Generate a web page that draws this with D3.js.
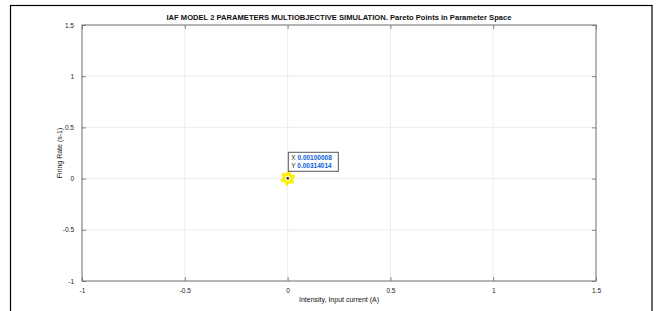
<!DOCTYPE html>
<html><head><meta charset="utf-8">
<script src="https://cdn.jsdelivr.net/npm/d3@7"></script>
<style>body{margin:0;background:#fff}svg{display:block}</style>
</head><body>
<svg id="c" width="659" height="311"></svg>
<script>
const title = "IAF MODEL 2 PARAMETERS MULTIOBJECTIVE SIMULATION. Pareto Points in Parameter Space";
const xLabel = "Intensity, Input current (A)";
const yLabel = "Firing Rate (s-1)";
const xTicks = [-1, -0.5, 0, 0.5, 1, 1.5];
const yTicks = [-1, -0.5, 0, 0.5, 1, 1.5];
const xTickLabels = ["-1", "-0.5", "0", "0.5", "1", "1.5"];
const yTickLabels = ["-1", "-0.5", "0", "0.5", "1", "1.5"];
const paretoX = [0.00100008];
const paretoY = [0.00314014];
const tipX = ["0.00100008"];
const tipY = ["0.00314014"];

const svg = d3.select("#c");
const font = "Liberation Sans, Arial, sans-serif";
svg.append("rect").attr("x",10.5).attr("y",5.5).attr("width",641.5).attr("height",320)
  .attr("fill","none").attr("stroke","#000").attr("stroke-width",1.2);

const L=82, R=596, T=25, B=281;
const x = d3.scaleLinear().domain([-1,1.5]).range([L,R]);
const y = d3.scaleLinear().domain([-1,1.5]).range([B,T]);

const g = svg.append("g");
g.selectAll(".gx").data(xTicks).enter().append("line")
  .attr("x1",d=>x(d)).attr("x2",d=>x(d)).attr("y1",T).attr("y2",B)
  .attr("stroke","#e6e6e6").attr("stroke-width",0.8);
g.selectAll(".gy").data(yTicks).enter().append("line")
  .attr("y1",d=>y(d)).attr("y2",d=>y(d)).attr("x1",L).attr("x2",R)
  .attr("stroke","#e6e6e6").attr("stroke-width",0.8);

const ax = (sel, axis) => { sel.call(axis); sel.select(".domain").remove();
  sel.selectAll("line").attr("stroke","#777").attr("stroke-width",0.9);
  sel.selectAll("text").attr("font-family",font).attr("font-size",6.5).attr("fill","#222"); };
g.append("g").attr("transform",`translate(0,${B})`)
  .call(s=>ax(s, d3.axisBottom(x).tickValues(xTicks).tickSize(-4).tickPadding(7).tickFormat((d,i)=>xTickLabels[i])));
g.append("g").attr("transform",`translate(0,${T})`)
  .call(s=>ax(s, d3.axisTop(x).tickValues(xTicks).tickSize(-4).tickFormat("")));
g.append("g").attr("transform",`translate(${L},0)`)
  .call(s=>ax(s, d3.axisLeft(y).tickValues(yTicks).tickSize(-4).tickPadding(8).tickFormat((d,i)=>yTickLabels[i])));
g.append("g").attr("transform",`translate(${R},0)`)
  .call(s=>ax(s, d3.axisRight(y).tickValues(yTicks).tickSize(-4).tickFormat("")));
g.append("rect").attr("x",L).attr("y",T).attr("width",R-L).attr("height",B-T)
  .attr("fill","none").attr("stroke","#777").attr("stroke-width",1);

svg.append("text").attr("x",339).attr("y",20).attr("text-anchor","middle")
  .attr("font-family",font).attr("font-size",7.6).attr("font-weight","bold").attr("fill","#111").text(title);
svg.append("text").attr("x",(L+R)/2).attr("y",302).attr("text-anchor","middle")
  .attr("font-family",font).attr("font-size",7).attr("fill","#111").text(xLabel);
svg.append("text").attr("transform",`translate(62,${(T+B)/2}) rotate(-90)`).attr("text-anchor","middle")
  .attr("font-family",font).attr("font-size",7).attr("fill","#111").text(yLabel);

// hexagram marker
const hexagram = { draw(ctx, size) {
  const r = Math.sqrt(size)/2, ri = r*0.58;
  for (let k=0;k<12;k++){ const a = -Math.PI/2 + k*Math.PI/6, rr = k%2? ri : r;
    const px = rr*Math.cos(a), py = rr*Math.sin(a);
    k? ctx.lineTo(px,py) : ctx.moveTo(px,py); }
  ctx.closePath(); } };
const sym = d3.symbol().type(hexagram).size(150);
g.selectAll(".pt").data(paretoX).enter().append("path")
  .attr("d",sym).attr("transform",(d,i)=>`translate(${x(d)},${y(paretoY[i])}) rotate(10)`)
  .attr("fill","none").attr("stroke","#ffee00").attr("stroke-width",2.8).attr("stroke-linejoin","round");
g.selectAll(".dot").data(paretoX).enter().append("circle")
  .attr("cx",d=>x(d)).attr("cy",(d,i)=>y(paretoY[i])).attr("r",1.2).attr("fill","#222");

const px = x(paretoX[0]), py = y(paretoY[0]);
const tip = g.append("g").attr("transform",`translate(${px+0.5},${py-26})`);
tip.append("rect").attr("x",0).attr("y",0).attr("width",50).attr("height",19)
  .attr("fill","#fff").attr("stroke","#555").attr("stroke-width",1);
const rows = [["X",tipX[0]],["Y",tipY[0]]];
rows.forEach((r,i)=>{
  const t = tip.append("text").attr("x",3).attr("y",8+i*7.5).attr("font-family",font).attr("font-size",6.5);
  t.append("tspan").attr("fill","#222").text(r[0]+" ");
  t.append("tspan").attr("fill","#0a5ed8").attr("font-weight","bold").text(r[1]);
});
</script>
</body></html>
